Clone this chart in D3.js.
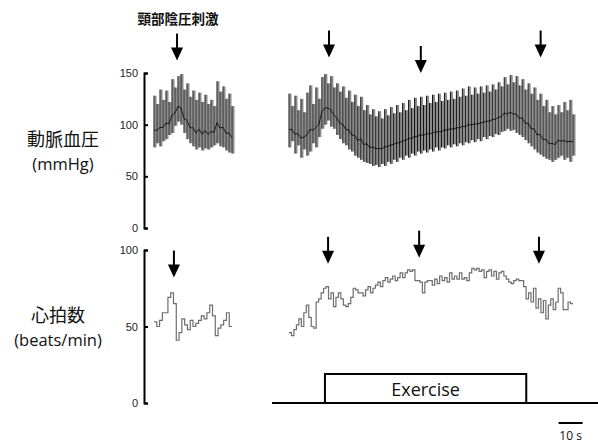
<!DOCTYPE html>
<html>
<head>
<meta charset="utf-8">
<script src="https://cdn.jsdelivr.net/npm/d3@7"></script>
<style>
  body { margin: 0; background: #fff; }
  svg { display: block; font-family: "Liberation Sans", Arial, sans-serif; }
  .axis-g path, .axis-g line { stroke: #000; stroke-width: 2; }
  .axis-g text { font-size: 11px; fill: #222; }
  .label-jp { font-family: "Noto Sans CJK JP", sans-serif; fill: #111; }
  .label-unit { font-family: "Open Sans", sans-serif; fill: #111; }
  .beat-up { stroke: #111; stroke-width: 1; }
  .beat-down { stroke: #8c8c8c; stroke-width: 2.2; }
  .mean-line { fill: none; stroke: #000; stroke-width: 0.8; }
  .hr-line { fill: none; stroke: #6e6e6e; stroke-width: 1.2; }
  .arrow-shaft { stroke: #000; stroke-width: 2; }
  .arrow-head { fill: #000; }
</style>
</head>
<body>
<div id="chart"></div>
<script>
// labels
const stimLabel = "頸部陰圧刺激";
const bpLabel = ["動脈血圧", "(mmHg)"];
const hrLabel = ["心拍数", "(beats/min)"];
const exerciseLabel = "Exercise";
const scaleLabel = "10 s";

const bpTicks = [0, 50, 100, 150];
const hrTicks = [0, 50, 100];

// durations in seconds
const restDuration = 32.5;
const exDuration = 118.5;
const exerciseStart = 15;
const exerciseEnd = 99;
const scaleBarStart = 112.5;
const scaleBarLength = 10;

// arrows: time (s) and tip level (in panel units)
const restBpArrows = [{ t: 9.6, level: 162 }];
const restHrArrows = [{ t: 8.3, level: 82 }];
const exBpArrows = [{ t: 16.7, level: 165 }, { t: 55, level: 150 }, { t: 105, level: 165 }];
const exHrArrows = [{ t: 16.3, level: 91 }, { t: 54.3, level: 95 }, { t: 104.3, level: 91 }];

// arterial pressure, per beat (systolic / diastolic)
const restSys = [128, 120, 134, 124, 133, 122, 144, 136, 147, 149, 134, 140, 127, 133,
  124, 131, 122, 129, 120, 124, 118, 142, 132, 137, 125, 130, 118];
const restDia = [78, 82, 79, 84, 86, 90, 92, 99, 103, 100, 92, 86, 82, 79,
  76, 78, 75, 77, 76, 78, 80, 82, 79, 78, 75, 73, 72];

const exSys = [130, 118, 128, 114, 125, 112, 131, 138, 120, 136, 125, 146, 149, 140, 147, 136,
  140, 132, 137, 126, 133, 122, 129, 118, 127, 114, 119, 110, 115, 108, 113, 106,
  115, 109, 117, 111, 119, 112, 121, 114, 124, 116, 126, 118, 127, 119, 128, 121,
  129, 122, 130, 123, 131, 124, 132, 125, 133, 127, 135, 128, 137, 129, 136, 130,
  137, 131, 138, 132, 139, 134, 141, 137, 146, 139, 148, 141, 147, 138, 144, 134,
  140, 130, 136, 124, 130, 118, 124, 112, 118, 110, 119, 112, 122, 114, 124, 110];
const exDia = [78, 84, 72, 80, 68, 76, 70, 74, 82, 78, 88, 96, 100, 104, 98, 96,
  90, 86, 82, 80, 76, 74, 70, 68, 66, 64, 63, 62, 60, 61, 59, 62,
  60, 64, 62, 66, 64, 68, 66, 70, 68, 72, 70, 74, 72, 75, 73, 76,
  74, 78, 75, 78, 77, 80, 78, 81, 79, 82, 80, 83, 82, 85, 83, 86,
  84, 88, 86, 89, 88, 91, 90, 93, 94, 96, 94, 95, 92, 90, 88, 85,
  82, 79, 76, 73, 71, 69, 67, 66, 64, 66, 68, 70, 66, 68, 64, 70];

// heart rate, per beat
const restHr = [53, 50, 54, 59, 59, 69, 72, 65, 41, 46, 55, 51, 48, 54, 50, 52,
  54, 57, 55, 59, 64, 57, 44, 49, 51, 54, 59, 50];
const exHr = [46, 44, 48, 51, 55, 50, 59, 64, 56, 50, 49, 66, 68, 72, 75, 76,
  68, 72, 63, 69, 72, 68, 64, 63, 65, 69, 75, 74, 72, 72, 70, 74,
  76, 72, 75, 77, 79, 76, 80, 82, 79, 81, 83, 80, 82, 85, 82, 85,
  87, 86, 87, 80, 80, 79, 72, 79, 80,
  80, 77, 81, 78, 83, 80, 82, 79, 85, 81, 83, 81, 85, 81, 82, 80,
  85, 88, 87, 88, 86, 87, 82, 86, 87, 83, 86, 81, 85, 86, 83, 81,
  79, 78, 80, 81, 80, 80, 76, 68, 72, 66, 75, 62, 68, 59, 67, 55,
  64, 68, 61, 66, 75, 72, 61, 61, 66, 65];

class TraceFigure {
  constructor({ el }) {
    this.el = el;
    this.width = 598;
    this.height = 443;
    this.setup();
    this.scaffold();
    this.render();
  }

  setup() {
    this.axisX = 144;
    this.xRest = d3.scaleLinear().domain([0, restDuration]).range([154, 232]);
    this.xEx = d3.scaleLinear().domain([0, exDuration]).range([289, 573]);
    this.yBp = d3.scaleLinear().domain([0, 150]).range([228, 73]);
    this.yHr = d3.scaleLinear().domain([0, 100]).range([403, 250]);
    this.baseY = 403;
    this.boxTop = 374;
  }

  scaffold() {
    this.svg = d3
      .select(this.el)
      .append("svg")
      .attr("width", this.width)
      .attr("height", this.height)
      .attr("viewBox", [0, 0, this.width, this.height]);
    this.gText = this.svg.append("g").attr("class", "text-g");
    this.gAxes = this.svg.append("g").attr("class", "axes-g");
    this.gTraces = this.svg.append("g").attr("class", "traces-g");
    this.gArrows = this.svg.append("g").attr("class", "arrows-g");
    this.gExercise = this.svg.append("g").attr("class", "exercise-g");
  }

  render() {
    this.renderLabels();
    this.renderAxes();
    this.renderPressure(restSys, restDia, this.xRest, restDuration);
    this.renderPressure(exSys, exDia, this.xEx, exDuration);
    this.renderHeartRate(restHr, this.xRest, restDuration);
    this.renderHeartRate(exHr, this.xEx, exDuration);
    this.renderArrows(restBpArrows, this.xRest, this.yBp);
    this.renderArrows(exBpArrows, this.xEx, this.yBp);
    this.renderArrows(restHrArrows, this.xRest, this.yHr);
    this.renderArrows(exHrArrows, this.xEx, this.yHr);
    this.renderExercise();
  }

  renderLabels() {
    this.gText
      .append("text")
      .attr("class", "label-jp")
      .attr("x", 178)
      .attr("y", 24)
      .attr("text-anchor", "middle")
      .attr("font-size", 13.5)
      .attr("font-weight", "bold")
      .text(stimLabel);

    const blocks = [
      { lines: bpLabel, x: 63, y: 146 },
      { lines: hrLabel, x: 58, y: 322 },
    ];
    blocks.forEach((b) => {
      this.gText
        .append("text")
        .attr("class", "label-jp")
        .attr("x", b.x)
        .attr("y", b.y)
        .attr("text-anchor", "middle")
        .attr("font-size", 18)
        .text(b.lines[0]);
      this.gText
        .append("text")
        .attr("class", "label-unit")
        .attr("x", b.x)
        .attr("y", b.y + 24)
        .attr("text-anchor", "middle")
        .attr("font-size", 16.5)
        .text(b.lines[1]);
    });
  }

  renderAxes() {
    [
      [this.yBp, bpTicks],
      [this.yHr, hrTicks],
    ].forEach(([y, ticks]) => {
      this.gAxes
        .append("g")
        .attr("class", "axis-g")
        .attr("transform", `translate(${this.axisX},0)`)
        .call(
          d3
            .axisLeft(y)
            .tickValues(ticks)
            .tickSizeInner(-4)
            .tickSizeOuter(-4)
            .tickPadding(6)
        )
        .call((g) => g.selectAll("text").attr("font-family", null));
    });
  }

  renderPressure(sys, dia, x, duration) {
    const step = duration / (sys.length - 1);
    const g = this.gTraces.append("g").attr("class", "pressure-g");
    const beats = sys.map((s, i) => ({ t: i * step, s, d: dia[i] }));

    g.selectAll(".beat-down")
      .data(beats)
      .join("line")
      .attr("class", "beat-down")
      .attr("x1", (d) => x(d.t) + 1.4)
      .attr("x2", (d) => x(d.t) + 1.4)
      .attr("y1", (d) => this.yBp(d.s))
      .attr("y2", (d) => this.yBp(d.d));

    g.selectAll(".beat-up")
      .data(beats)
      .join("line")
      .attr("class", "beat-up")
      .attr("x1", (d) => x(d.t))
      .attr("x2", (d) => x(d.t))
      .attr("y1", (d) => this.yBp(d.s))
      .attr("y2", (d) => this.yBp(d.d));

    // mean pressure
    const line = d3
      .line()
      .x((d) => x(d.t))
      .y((d) => this.yBp(d.d + (d.s - d.d) / 3));
    g.append("path").attr("class", "mean-line").attr("d", line(beats));
  }

  renderHeartRate(values, x, duration) {
    const step = duration / values.length;
    const pts = values.map((v, i) => ({ t: i * step, v }));
    pts.push({ t: duration, v: values[values.length - 1] });
    const line = d3
      .line()
      .x((d) => x(d.t))
      .y((d) => this.yHr(d.v))
      .curve(d3.curveStepAfter);
    this.gTraces.append("path").attr("class", "hr-line").attr("d", line(pts));
  }

  renderArrows(arrows, x, y) {
    const len = 27;
    const headH = 13;
    const headW = 6;
    arrows.forEach((a) => {
      const cx = x(a.t);
      const tip = y(a.level);
      this.gArrows
        .append("line")
        .attr("class", "arrow-shaft")
        .attr("x1", cx)
        .attr("x2", cx)
        .attr("y1", tip - len)
        .attr("y2", tip - headH + 1);
      this.gArrows
        .append("path")
        .attr("class", "arrow-head")
        .attr(
          "d",
          `M${cx - headW},${tip - headH}L${cx + headW},${tip - headH}L${cx},${tip}Z`
        );
    });
  }

  renderExercise() {
    const g = this.gExercise;
    g.append("line")
      .attr("x1", 272)
      .attr("x2", this.width)
      .attr("y1", this.baseY)
      .attr("y2", this.baseY)
      .attr("stroke", "#000")
      .attr("stroke-width", 2);

    const x0 = this.xEx(exerciseStart);
    const x1 = this.xEx(exerciseEnd);
    g.append("rect")
      .attr("x", x0)
      .attr("y", this.boxTop)
      .attr("width", x1 - x0)
      .attr("height", this.baseY - this.boxTop)
      .attr("fill", "#fff")
      .attr("stroke", "#000")
      .attr("stroke-width", 2);
    g.append("text")
      .attr("class", "label-unit")
      .attr("x", (x0 + x1) / 2)
      .attr("y", 396)
      .attr("text-anchor", "middle")
      .attr("font-size", 18)
      .text(exerciseLabel);

    // 10 s scale bar
    const s0 = this.xEx(scaleBarStart);
    const s1 = this.xEx(scaleBarStart + scaleBarLength);
    g.append("line")
      .attr("x1", s0)
      .attr("x2", s1)
      .attr("y1", 423)
      .attr("y2", 423)
      .attr("stroke", "#000")
      .attr("stroke-width", 2);
    g.append("text")
      .attr("class", "label-unit")
      .attr("x", (s0 + s1) / 2)
      .attr("y", 440)
      .attr("text-anchor", "middle")
      .attr("font-size", 12)
      .text(scaleLabel);
  }
}

new TraceFigure({ el: document.getElementById("chart") });
</script>
</body>
</html>
